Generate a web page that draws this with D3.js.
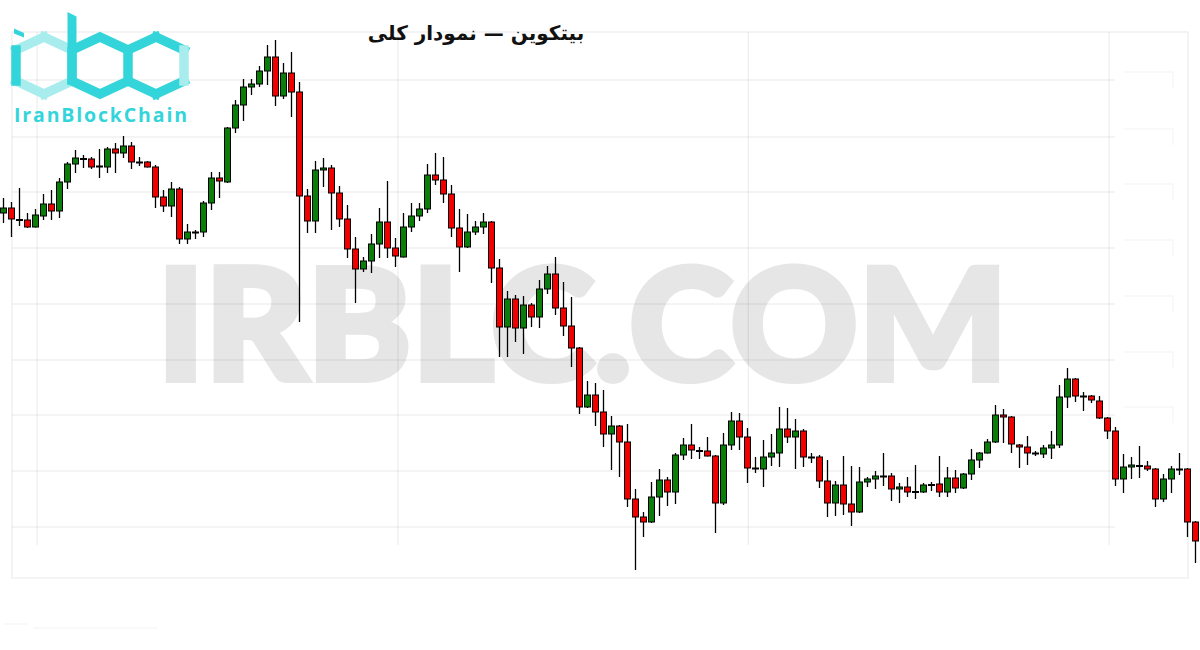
<!DOCTYPE html>
<html>
<head>
<meta charset="utf-8">
<script src="https://cdn.jsdelivr.net/npm/d3@7"></script>
<style>
  html, body { margin: 0; padding: 0; background: #fff; }
  svg { display: block; }
</style>
</head>
<body>
<div id="chart"></div>
<script>
// DATA (arbitrary price units)
const open = [3870,3920,3805,3800,3730,3840,3960,3890,4180,4360,4415,4410,4340,4330,4510,4470,4540,4380,4380,4330,
  4030,3940,4110,3610,3680,3680,3970,4220,4180,4720,4950,5130,5160,5290,5430,5040,5270,5080,4040,3790,
  4300,4320,4070,3810,3510,3310,3390,3560,3780,3520,3430,3730,3840,3910,4250,4200,4060,3720,3530,3680,
  3730,3780,3320,2730,3010,2720,2950,2830,3110,3260,2920,2740,2520,1930,2050,1880,1660,1740,1580,1010,
  830,780,1030,1200,1080,1450,1550,1495,1490,1440,970,1550,1790,1630,1320,1310,1430,1470,1710,1630,
  1690,1430,1430,1190,970,1150,960,880,1180,1210,1240,1240,1110,1130,1085,1080,1150,1160,1080,1220,
  1120,1260,1400,1470,1580,1850,1830,1550,1530,1470,1460,1520,1550,2030,2210,2040,2040,1990,1820,1690,
  1210,1330,1345,1340,1310,1010,1210,1310,1310,780]
const high = [4020,3980,4120,3870,3910,4060,4100,4220,4380,4500,4450,4430,4510,4530,4570,4640,4580,4430,4390,4350,
  4100,4180,4130,3760,3700,3990,4280,4280,4730,5000,5210,5210,5340,5550,5600,5370,5480,5180,4110,4390,
  4420,4350,4140,3950,3630,3430,3660,3920,4190,3620,3870,3970,3970,4360,4470,4430,4150,3910,3860,3790,
  3870,3790,3410,3090,3050,3040,2970,3200,3340,3430,3180,3030,2530,2190,2170,2100,1840,1750,1760,1110,
  880,1180,1310,1230,1470,1620,1760,1530,1630,1450,1670,1880,1870,1720,1430,1600,1660,1930,1920,1810,
  1710,1470,1450,1400,1190,1440,1340,1330,1230,1290,1470,1270,1170,1230,1350,1170,1180,1440,1330,1300,
  1270,1510,1480,1610,1950,1910,1840,1560,1640,1490,1550,1690,2150,2320,2220,2080,2050,2040,1830,1730,
  1460,1430,1540,1390,1320,1260,1340,1470,1320,790]
const low = [3770,3630,3740,3720,3725,3800,3800,3820,4110,4270,4320,4310,4220,4270,4270,4420,4310,4340,4325,3920,
  3880,3830,3560,3560,3610,3630,3900,4020,4170,4670,4790,5050,5130,5150,4940,5010,4830,2780,3670,3670,
  4130,3700,3730,3420,2970,3280,3270,3420,3420,3330,3425,3680,3790,3870,4150,3970,3630,3280,3520,3650,
  3660,3170,2430,2430,2580,2460,2730,2720,3060,2850,2640,2330,1860,1920,1740,1530,1300,1230,930,300,
  630,770,840,940,960,1400,1410,1410,1435,670,950,1500,1500,1170,1270,1130,1340,1330,1570,1310,
  1330,1370,1120,830,840,850,740,870,1130,1110,1140,990,970,1030,1010,1070,1090,1030,1030,1070,
  1110,1200,1320,1465,1570,1570,1470,1320,1350,1440,1420,1410,1520,1920,1980,1890,1970,1810,1610,1140,
  1070,1210,1220,1290,930,980,1070,1250,630,370]
const close = [3920,3810,3795,3730,3850,3960,3890,4180,4360,4420,4405,4330,4330,4510,4470,4540,4380,4375,4330,4030,
  3940,4110,3610,3680,3675,3970,4220,4190,4720,4950,5130,5160,5290,5430,5040,5270,5080,4040,3790,4300,
  4320,4070,3810,3510,3310,3390,3560,3780,3520,3440,3730,3840,3910,4250,4200,4060,3720,3530,3680,3730,
  3780,3320,2730,3010,2720,2950,2830,3110,3260,2920,2740,2520,1930,2050,1880,1660,1740,1580,1010,830,
  780,1030,1200,1080,1450,1550,1500,1490,1440,970,1550,1790,1630,1320,1315,1430,1470,1710,1630,1690,
  1430,1425,1190,970,1150,960,880,1180,1210,1240,1235,1110,1130,1080,1080,1150,1155,1080,1220,1120,
  1260,1400,1470,1580,1850,1830,1560,1530,1470,1465,1520,1550,2030,2210,2040,2035,2000,1820,1690,1210,
  1330,1350,1340,1310,1010,1210,1310,1305,780,590]

// horizontal / vertical grid positions (price units / candle index units)
const gridPrices = [5200, 4630, 4080, 3520, 2960, 2400, 1850, 1290, 730]
const gridSlots = [4.2, 49.3, 93.1, 138.2]

const titleText = "بیتکوین — نمودار کلی"
const watermarkText = "IRBLC.COM"
const logoText = "IranBlockChain"

const width = 1200, height = 650
const upColor = "#0a7d0a", downColor = "#f20000"
const gridColor = "rgba(0,0,0,0.06)"
const cyan = "#33d5da", cyanLight = "#a9ecee"

const svg = d3.select("#chart").append("svg")
  .attr("width", width)
  .attr("height", height)

const idx = d3.range(open.length)

const xScale = d3.scaleBand()
  .domain(idx)
  .range([-0.5, 1199.5])
  .padding(0)

const xSlot = d3.scaleLinear()
  .domain([0, open.length - 1])
  .range([xScale(0) + xScale.bandwidth() / 2, xScale(open.length - 1) + xScale.bandwidth() / 2])

const yScale = d3.scaleLinear()
  .domain([220, 5680])
  .range([578, 32])

// WATERMARK (stroke thickens the letters)
svg.append("text")
  .attr("x", 157)
  .attr("y", 380)
  .attr("textLength", 851)
  .attr("lengthAdjust", "spacingAndGlyphs")
  .attr("font-family", "Lato, 'Open Sans', sans-serif")
  .attr("font-weight", 900)
  .attr("font-size", 155)
  .attr("fill", "#e6e6e6")
  .attr("stroke", "#e6e6e6")
  .attr("stroke-width", 6)
  .attr("stroke-linejoin", "miter")
  .text(watermarkText)

// FRAME + GRID
svg.append("rect")
  .attr("x", 12).attr("y", 32)
  .attr("width", 1176).attr("height", 546)
  .attr("fill", "none")
  .attr("stroke", gridColor)
  .attr("stroke-width", 1.5)

svg.append("g").selectAll("line")
  .data(gridPrices)
  .join("line")
    .attr("x1", 12).attr("x2", 1115)
    .attr("y1", d => yScale(d)).attr("y2", d => yScale(d))
    .attr("stroke", gridColor)
    .attr("stroke-width", 1.5)

svg.append("g").selectAll("line")
  .data(gridSlots)
  .join("line")
    .attr("x1", d => xSlot(d)).attr("x2", d => xSlot(d))
    .attr("y1", 32).attr("y2", 545)
    .attr("stroke", gridColor)
    .attr("stroke-width", 1.5)

// faint leftovers of the price labels on the right
svg.append("g").selectAll("path")
  .data(gridPrices.slice(0, 7))
  .join("path")
    .attr("d", d => `M1124,${yScale(d) - 8}H1173V${yScale(d) + 8}`)
    .attr("fill", "none")
    .attr("stroke", "rgba(0,0,0,0.035)")
    .attr("stroke-width", 1.5)

svg.append("path")
  .attr("d", "M4,624H27M33,628H157")
  .attr("stroke", "rgba(0,0,0,0.035)")
  .attr("stroke-width", 1.5)

// CANDLES
const candles = svg.append("g").selectAll("g")
  .data(idx)
  .join("g")
    .attr("transform", i => `translate(${xScale(i) + xScale.bandwidth() / 2},0)`)

candles.append("line")
  .attr("y1", i => yScale(high[i]))
  .attr("y2", i => yScale(low[i]))
  .attr("stroke", "#000")
  .attr("stroke-width", 1.3)

candles.append("rect")
  .attr("x", -3)
  .attr("width", 6)
  .attr("y", i => yScale(Math.max(open[i], close[i])))
  .attr("height", i => Math.max(1, Math.abs(yScale(open[i]) - yScale(close[i]))))
  .attr("fill", i => close[i] >= open[i] ? upColor : downColor)
  .attr("stroke", "#000")
  .attr("stroke-width", 1)

// TITLE
svg.append("text")
  .attr("x", 476)
  .attr("y", 40)
  .attr("text-anchor", "middle")
  .attr("direction", "rtl")
  .attr("font-family", "'DejaVu Sans', sans-serif")
  .attr("font-weight", "bold")
  .attr("font-size", 20)
  .attr("fill", "#111")
  .text(titleText)

// LOGO
const logo = svg.append("g")
const hex = cx => [[cx, 37], [cx + 28, 50], [cx + 28, 81], [cx, 94], [cx - 28, 81], [cx - 28, 50]]
const seg = (pts, a, b) => `M${pts[a][0]},${pts[a][1]}L${pts[b][0]},${pts[b][1]}`

const hi = hex(44), hb = hex(100), hc = hex(156)
const logoSegs = [
  { d: seg(hi, 0, 1) + seg(hi, 5, 0), c: cyanLight },
  { d: seg(hi, 4, 3) + seg(hi, 3, 2), c: cyanLight },
  { d: seg(hi, 5, 4), c: cyan },
  { d: "M" + hb.map(p => p.join(",")).join("L") + "Z", c: cyan },
  { d: seg(hc, 5, 0) + seg(hc, 0, 1) + seg(hc, 2, 3) + seg(hc, 3, 4), c: cyan },
  { d: seg(hc, 1, 2), c: cyanLight }
]
logo.selectAll("path.seg")
  .data(logoSegs)
  .join("path")
    .attr("class", "seg")
    .attr("d", d => d.d)
    .attr("fill", "none")
    .attr("stroke", d => d.c)
    .attr("stroke-width", 9.5)
    .attr("stroke-linejoin", "miter")
    .attr("stroke-linecap", "square")

// b stem and i dot
logo.append("path")
  .attr("d", "M67.5,12L76.5,16.5V85H67.5Z")
  .attr("fill", cyan)
logo.append("path")
  .attr("d", "M14,28.5L24,33V37.5L14,33.5Z")
  .attr("fill", cyan)

logo.append("text")
  .attr("x", 14)
  .attr("y", 122)
  .attr("textLength", 173)
  .attr("lengthAdjust", "spacing")
  .attr("font-family", "'Open Sans', sans-serif")
  .attr("font-weight", 700)
  .attr("font-size", 19.5)
  .attr("fill", cyan)
  .text(logoText)
</script>
</body>
</html>
